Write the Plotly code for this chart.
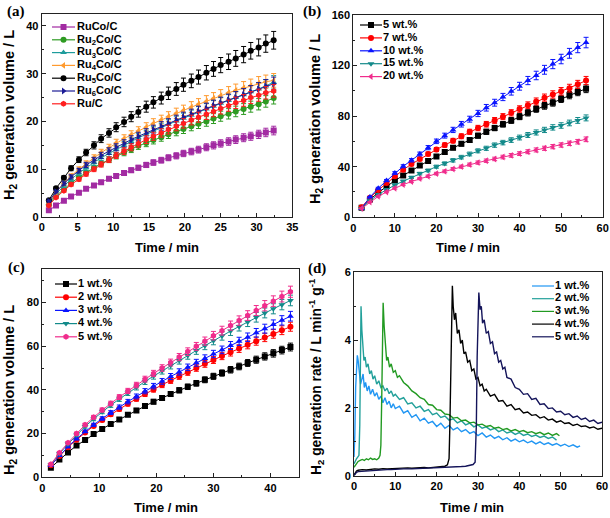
import plotly.graph_objects as go

W, H = 610, 518
SANS = "Liberation Sans, Arial, Helvetica, sans-serif"
SERIF = "Liberation Serif, Times New Roman, serif"

# ---------------- Panel (a) ----------------
time_a = [1.0, 2.0, 3.1, 4.1, 5.2, 6.2, 7.3, 8.3, 9.4, 10.4, 11.5, 12.5, 13.5, 14.6, 15.6,
          16.7, 17.7, 18.8, 19.8, 20.9, 21.9, 23.0, 24.0, 25.0, 26.1, 27.1, 28.2, 29.2, 30.3, 31.3, 32.4]
a_labels = ["RuCo/C", "Ru<sub>2</sub>Co/C", "Ru<sub>3</sub>Co/C", "Ru<sub>4</sub>Co/C",
            "Ru<sub>5</sub>Co/C", "Ru<sub>6</sub>Co/C", "Ru/C"]
a_RuCo = [1.4, 2.4, 3.4, 4.3, 5.1, 5.9, 6.6, 7.3, 8.0, 8.6, 9.2, 9.8, 10.3, 10.9, 11.4, 11.9, 12.4,
          12.8, 13.3, 13.7, 14.1, 14.6, 15.0, 15.4, 15.8, 16.2, 16.6, 16.9, 17.3, 17.7, 18.1]
a_Ru2Co = [2.6, 4.4, 5.8, 7.1, 8.3, 9.3, 10.3, 11.2, 12.0, 12.8, 13.5, 14.2, 14.9, 15.5, 16.1, 16.7,
           17.3, 17.9, 18.4, 19.0, 19.5, 20.0, 20.6, 21.1, 21.6, 22.1, 22.6, 23.1, 23.6, 24.2, 24.9]
a_Ru3Co = [2.8, 4.8, 6.5, 7.9, 9.2, 10.3, 11.4, 12.4, 13.3, 14.2, 15.0, 15.8, 16.6, 17.3, 18.0, 18.7,
           19.4, 20.1, 20.7, 21.3, 22.0, 22.6, 23.2, 23.8, 24.4, 25.0, 25.6, 26.2, 26.8, 27.4, 28.2]
a_Ru4Co = [3.0, 5.2, 7.0, 8.6, 10.0, 11.2, 12.4, 13.5, 14.5, 15.5, 16.4, 17.2, 18.0, 18.8, 19.6, 20.3,
           21.0, 21.7, 22.3, 23.0, 23.6, 24.2, 24.8, 25.4, 26.0, 26.5, 27.0, 27.5, 28.0, 28.3, 28.6]
a_Ru5Co = [3.5, 6.0, 8.2, 10.2, 12.0, 13.5, 15.0, 16.4, 17.6, 18.8, 19.9, 21.0, 22.0, 23.1, 24.0, 24.9,
           25.9, 26.8, 27.7, 28.5, 29.3, 30.2, 31.0, 31.8, 32.5, 33.2, 34.0, 34.8, 35.5, 36.3, 37.0]
a_Ru6Co = [3.3, 5.3, 7.0, 8.4, 9.7, 10.9, 11.9, 12.9, 13.8, 14.6, 15.4, 16.2, 16.9, 17.6, 18.3, 19.0,
           19.6, 20.3, 20.9, 21.5, 22.1, 22.7, 23.3, 23.9, 24.5, 25.0, 25.6, 26.2, 26.8, 27.4, 27.9]
a_RuC = [2.4, 4.1, 5.5, 6.8, 7.9, 9.0, 10.0, 11.0, 12.0, 12.9, 13.8, 14.6, 15.4, 16.2, 16.9, 17.6,
         18.3, 19.0, 19.6, 20.3, 20.9, 21.5, 22.1, 22.7, 23.3, 23.9, 24.4, 25.0, 25.5, 26.0, 26.4]

# ---------------- Panel (b) ----------------
time_b = [2, 4, 6, 8, 10, 12, 14, 16, 18, 20, 22, 24, 26, 28, 30, 32, 34, 36, 38, 40, 42, 44, 46,
          48, 50, 52, 54, 56]
b_labels = ["5 wt.%", "7 wt.%", "10 wt.%", "15 wt.%", "20 wt.%"]
b_5 = [7.5, 14, 19.5, 24.5, 29, 33, 37, 41, 44.5, 48, 51.5, 55, 58, 61, 64.5, 67.5, 70.5, 73.5,
       76.5, 79.5, 82.5, 85.5, 88, 90.5, 93.5, 96.5, 99, 101.5]
b_7 = [8, 15.5, 21.5, 27, 32.5, 37.5, 42, 46, 50, 53.5, 57, 60.5, 64, 67.5, 70.5, 73.5, 76.5, 79.5,
       82.5, 85.5, 88.5, 91.5, 94.5, 97, 99.5, 102, 105, 108]
b_10 = [7, 16, 23, 29, 35, 40.3, 45, 50, 55, 60, 64.5, 69, 73.5, 77.5, 82, 86.5, 90.5, 95, 99.5,
        103.5, 108, 112, 116.5, 121, 125, 129.5, 134, 138]
b_15 = [7, 13, 18, 22, 25.5, 28.5, 31.5, 34.5, 37, 40, 42.5, 45, 47.5, 50, 52.5, 54.5, 57, 59, 61,
        63, 65, 67, 69, 71, 72.5, 74.5, 76.5, 78.5]
b_20 = [7, 12, 16.5, 20, 23, 25.8, 28.2, 30.6, 32.4, 34.5, 36.3, 38.2, 40, 41.6, 43.2, 44.7, 46.1,
        47.6, 48.9, 50.3, 51.8, 53.2, 54.5, 55.8, 57.1, 58.4, 59.7, 61.6]

# ---------------- Panel (c) ----------------
time_c = [1.5, 3, 4.5, 6, 7.5, 9, 10.5, 12, 13.5, 15, 16.5, 18, 19.5, 21, 22.5, 24, 25.5, 27, 28.5,
          30, 31.5, 33, 34.5, 36, 37.5, 39, 40.5, 42, 43.5]
c_labels = ["1 wt.%", "2 wt.%", "3 wt.%", "4 wt.%", "5 wt.%"]
c_1 = [4.4, 8.1, 11.4, 14.5, 17.1, 19.8, 22.1, 24.4, 26.5, 28.6, 30.6, 32.6, 34.6, 36.3, 38.1, 39.8,
       41.4, 43.0, 44.6, 46.2, 47.7, 49.2, 50.7, 52.3, 53.8, 55.3, 56.7, 58.2, 59.6]
c_2 = [5.5, 9.8, 13.8, 17.2, 20.5, 23.5, 26.2, 28.8, 31.2, 33.6, 35.9, 38.1, 40.2, 42.3, 44.3, 46.2,
       48.1, 50.0, 51.9, 53.7, 55.5, 57.2, 58.9, 60.6, 62.3, 64.0, 65.6, 67.3, 68.9]
c_3 = [5.5, 10, 14, 17.6, 21, 24, 26.9, 29.6, 32.1, 34.6, 37, 39.4, 41.7, 43.9, 46.1, 48.2, 50.3,
       52.4, 54.4, 56.4, 58.3, 60.3, 62.2, 64.1, 66.1, 68, 69.9, 71.8, 73.7]
c_4 = [5.8, 10.8, 15.2, 19.4, 23.2, 26.7, 30, 33, 35.8, 38.6, 41.2, 43.8, 46.3, 48.7, 51.1, 53.4,
       55.7, 58, 60.2, 62.5, 64.7, 66.9, 69, 71.1, 73.2, 75.2, 77.1, 79, 80.9]
c_5 = [6, 11.2, 15.8, 20, 24, 27.5, 30.8, 33.8, 36.7, 39.5, 42.2, 44.9, 47.5, 50, 52.5, 55, 57.5,
       59.9, 62.3, 64.8, 67.1, 69.4, 71.7, 74, 76.3, 78.5, 80.6, 82.7, 84.9]

# ---------------- Panel (d) : (time, rate) pairs ----------------
d_labels = ["1 wt.%", "2 wt.%", "3 wt.%", "4 wt.%", "5 wt.%"]
d_1 = [(0, 0.55), (0.2, 1.2), (0.4, 2.6), (0.6, 3.3), (0.8, 3.55), (1.0, 3.4), (1.3, 3.0), (1.6, 2.7),
       (1.9, 2.85), (2.2, 3.0), (2.5, 2.6), (2.8, 2.75), (3.2, 2.5), (3.6, 2.65), (4.0, 2.4), (4.5, 2.55),
       (5.0, 2.35), (5.5, 2.45), (6.0, 2.25), (6.5, 2.35), (7, 2.15), (7.5, 2.3), (8, 2.1), (8.5, 2.2),
       (9, 2.0), (9.5, 2.12), (10, 1.98), (11, 2.05), (12, 1.85), (13, 1.92), (14, 1.72), (15, 1.8),
       (16, 1.62), (17, 1.7), (18, 1.55), (19, 1.6), (20, 1.45), (21, 1.55), (22, 1.4), (23, 1.48),
       (24, 1.35), (25, 1.42), (26, 1.3), (27, 1.36), (28, 1.25), (29, 1.3), (30, 1.18), (31, 1.26),
       (32, 1.14), (33, 1.2), (34, 1.1), (35, 1.16), (36, 1.06), (37, 1.12), (38, 1.02), (39, 1.08),
       (40, 1.0), (41, 1.05), (42, 0.97), (43, 1.02), (44, 0.94), (45, 1.0), (46, 0.92), (47, 0.97),
       (48, 0.9), (49, 0.95), (50, 0.88), (51, 0.93), (52, 0.86), (53, 0.91), (54, 0.84), (54.7, 0.88)]
d_2 = [(0, 0.35), (0.3, 0.45), (0.6, 0.5), (0.9, 0.55), (1.2, 0.6), (1.4, 1.5), (1.55, 3.5), (1.7, 5.0),
       (1.9, 4.3), (2.1, 3.8), (2.4, 3.4), (2.7, 3.5), (3.0, 3.2), (3.4, 3.3), (3.8, 3.0), (4.2, 3.1),
       (4.6, 2.85), (5.0, 2.95), (5.5, 2.7), (6.0, 2.8), (6.5, 2.6), (7.0, 2.65), (7.5, 2.5), (8, 2.58),
       (8.5, 2.42), (9, 2.5), (9.5, 2.35), (10, 2.4), (11, 2.25), (12, 2.3), (13, 2.12), (14, 2.15),
       (15, 2.0), (16, 2.05), (17, 1.9), (18, 1.95), (19, 1.8), (20, 1.85), (21, 1.72), (22, 1.76),
       (23, 1.64), (24, 1.68), (25, 1.56), (26, 1.62), (27, 1.5), (28, 1.55), (29, 1.44), (30, 1.5),
       (31, 1.4), (32, 1.44), (33, 1.35), (34, 1.4), (35, 1.3), (36, 1.35), (37, 1.26), (38, 1.3),
       (39, 1.22), (40, 1.27), (41, 1.19), (42, 1.23), (43, 1.16), (44, 1.2), (45, 1.13), (46, 1.17),
       (47, 1.1), (48, 1.14), (49, 1.05)]
d_3 = [(0, 0.25), (0.5, 0.35), (1, 0.42), (1.5, 0.45), (2, 0.48), (2.5, 0.45), (3, 0.5), (3.5, 0.47),
       (4, 0.52), (4.5, 0.48), (5, 0.5), (5.5, 0.47), (6, 0.52), (6.3, 0.6), (6.5, 0.9), (6.7, 2.2),
       (6.9, 4.3), (7.05, 5.1), (7.3, 4.4), (7.6, 3.9), (7.9, 3.4), (8.2, 3.5), (8.6, 3.2), (9, 3.3),
       (9.5, 3.05), (10, 3.1), (10.5, 2.9), (11, 2.95), (12, 2.75), (13, 2.65), (14, 2.5), (15, 2.42),
       (16, 2.3), (17, 2.25), (18, 2.1), (19, 2.08), (20, 1.95), (21, 1.93), (22, 1.82), (23, 1.8),
       (24, 1.7), (25, 1.72), (26, 1.62), (27, 1.64), (28, 1.56), (29, 1.58), (30, 1.5), (31, 1.52),
       (32, 1.45), (33, 1.48), (34, 1.4), (35, 1.43), (36, 1.36), (37, 1.39), (38, 1.32), (39, 1.36),
       (40, 1.3), (41, 1.33), (42, 1.27), (43, 1.3), (44, 1.24), (45, 1.28), (46, 1.21), (47, 1.26),
       (48, 1.19), (49, 1.24), (49.7, 1.18)]
d_4 = [(0, 0.02), (0.3, 0.1), (0.6, 0.14), (1, 0.16), (2, 0.18), (3, 0.17), (4, 0.19), (5, 0.2),
       (6, 0.19), (7, 0.21), (8, 0.2), (9, 0.21), (10, 0.22), (11, 0.21), (12, 0.22), (13, 0.23),
       (14, 0.22), (15, 0.23), (16, 0.22), (17, 0.24), (18, 0.23), (19, 0.24), (20, 0.25), (21, 0.26),
       (22, 0.28), (22.6, 0.32), (23.0, 0.5), (23.2, 1.5), (23.4, 3.2), (23.6, 4.8), (23.8, 5.6),
       (24.0, 5.0), (24.3, 4.6), (24.6, 4.8), (25.0, 4.2), (25.4, 4.3), (25.8, 3.9), (26.2, 4.0),
       (26.6, 3.6), (27.0, 3.65), (27.5, 3.35), (28, 3.4), (28.5, 3.1), (29, 3.15), (29.5, 2.85),
       (30, 2.9), (30.5, 2.65), (31, 2.7), (31.5, 2.5), (32, 2.55), (33, 2.35), (34, 2.4), (35, 2.2),
       (36, 2.22), (37, 2.05), (38, 2.1), (39, 1.95), (40, 1.98), (41, 1.85), (42, 1.88), (43, 1.78),
       (44, 1.8), (45, 1.7), (46, 1.74), (47, 1.64), (48, 1.67), (49, 1.58), (50, 1.62), (51, 1.54),
       (52, 1.56), (53, 1.48), (54, 1.52), (55, 1.45), (56, 1.47), (57, 1.41), (58, 1.44), (59, 1.37),
       (60, 1.4)]
d_5 = [(0, 0.0), (0.3, 0.06), (0.6, 0.1), (1, 0.12), (2, 0.13), (3, 0.15), (4, 0.15), (5, 0.16),
       (6, 0.17), (7, 0.17), (8, 0.18), (9, 0.18), (10, 0.19), (12, 0.2), (14, 0.2), (16, 0.21),
       (18, 0.21), (20, 0.22), (22, 0.23), (24, 0.25), (26, 0.27), (27, 0.28), (28, 0.3), (28.8, 0.33),
       (29.3, 0.4), (29.6, 1.5), (29.8, 3.5), (30.0, 4.8), (30.2, 5.4), (30.5, 4.9), (30.8, 5.0),
       (31.1, 4.5), (31.5, 4.6), (32, 4.2), (32.5, 4.25), (33, 3.9), (33.5, 3.95), (34, 3.6),
       (34.5, 3.65), (35, 3.35), (35.5, 3.4), (36, 3.15), (36.5, 3.2), (37, 2.9), (38, 2.85),
       (39, 2.6), (40, 2.55), (41, 2.4), (42, 2.42), (43, 2.25), (44, 2.28), (45, 2.1), (46, 2.12),
       (47, 1.98), (48, 2.0), (49, 1.88), (50, 1.9), (51, 1.8), (52, 1.83), (53, 1.72), (54, 1.76),
       (55, 1.66), (56, 1.7), (57, 1.6), (58, 1.64), (59, 1.54), (60, 1.58)]

# ---------------- styles ----------------
a_series = [(a_RuCo, "#A22BA2", "square"), (a_Ru2Co, "#2E9B22", "circle"),
            (a_Ru3Co, "#1E9C9C", "triangle-up"), (a_Ru4Co, "#FF9A2E", "triangle-left"),
            (a_Ru5Co, "#000000", "circle"), (a_Ru6Co, "#1C1C96", "triangle-right"),
            (a_RuC, "#FF1E1E", "hexagon")]
b_series = [(b_5, "#000000", "square"), (b_7, "#FF0000", "circle"), (b_10, "#0A14FF", "triangle-up"),
            (b_15, "#138A8A", "triangle-down"), (b_20, "#F02C8C", "triangle-left")]
c_series = [(c_1, "#000000", "square"), (c_2, "#FF0000", "circle"), (c_3, "#0A14FF", "triangle-up"),
            (c_4, "#138A8A", "triangle-down"), (c_5, "#F02C8C", "hexagon")]
d_series = [(d_1, "#2196F3"), (d_2, "#22A09A"), (d_3, "#229A22"), (d_4, "#000000"), (d_5, "#14145A")]

fig = go.Figure()
AXC = "#222222"


def dom(x0, x1, y0, y1):
    return [x0 / W, x1 / W], [1 - y1 / H, 1 - y0 / H]


def axis(domain, rng, dtick, mdtick):
    return dict(domain=domain, range=rng, dtick=dtick, showline=True, linecolor=AXC, linewidth=1,
                mirror=True, ticks="inside", ticklen=4, tickwidth=1, tickcolor=AXC,
                minor=dict(ticks="inside", ticklen=2, dtick=mdtick, tickcolor=AXC, tickwidth=1),
                showgrid=False, zeroline=False, automargin=False, ticklabeloverflow="allow",
                tickfont=dict(family=SANS, size=11, weight="bold", color="black"))


panels = [
    ("", (41.7, 292.3, 14, 217), [0, 35], 5, 2.5, [0, 42.5], 10, 5),
    ("2", (353.3, 602.7, 14.7, 217.3), [0, 60], 10, 5, [0, 160], 40, 20),
    ("3", (42.3, 299, 269, 477.3), [0, 45], 10, 5, [0, 95.3], 20, 10),
    ("4", (354, 602, 272.3, 475.7), [0, 60], 10, 5, [0, 6], 2, 1),
]
layout_axes = {}
for suf, box, xr, xd, xm, yr, yd, ym in panels:
    xdom, ydom = dom(*box)
    layout_axes["xaxis" + suf] = dict(axis(xdom, xr, xd, xm), anchor="y" + suf)
    layout_axes["yaxis" + suf] = dict(axis(ydom, yr, yd, ym), anchor="x" + suf)
# pixel overlay axis for legends / labels
layout_axes["xaxis5"] = dict(domain=[0, 1], range=[0, W], visible=False, anchor="y5", fixedrange=True)
layout_axes["yaxis5"] = dict(domain=[0, 1], range=[H, 0], visible=False, anchor="x5", fixedrange=True)


def add_marked(times, series, xa, ya, pct, msize):
    for vals, col, sym in series:
        fig.add_trace(go.Scatter(
            x=times, y=vals, xaxis=xa, yaxis=ya, mode="lines+markers", showlegend=False,
            line=dict(color=col, width=1),
            marker=dict(color=col, symbol=sym, size=msize, line=dict(width=0)),
            error_y=dict(type="percent", value=pct, color=col, thickness=1, width=2.5)))


add_marked(time_a, a_series, "x", "y", 5, 6)
add_marked(time_b, b_series, "x2", "y2", 3, 6)
add_marked(time_c, c_series, "x3", "y3", 3, 6)
for pairs, col in d_series:
    fig.add_trace(go.Scatter(x=[p[0] for p in pairs], y=[p[1] for p in pairs], xaxis="x4", yaxis="y4",
                             mode="lines", showlegend=False, line=dict(color=col, width=1.4)))

# ---------------- custom legends (pixel layout) ----------------
annotations = []
LEGFONT = dict(family=SANS, size=11, weight="bold", color="black")


def legend(labels, series, x0, x1, tx, y0, dy, markers=True):
    ty = [y0 + i * dy for i in range(len(series))]
    for y, s in zip(ty, series):
        col = s[1]
        fig.add_trace(go.Scatter(x=[x0, x1], y=[y, y], xaxis="x5", yaxis="y5", mode="lines",
                                 showlegend=False, line=dict(color=col, width=1.2), hoverinfo="skip"))
    if markers:
        fig.add_trace(go.Scatter(x=[(x0 + x1) / 2] * len(ty), y=ty, xaxis="x5", yaxis="y5",
                                 mode="markers", showlegend=False,
                                 marker=dict(color=[s[1] for s in series], symbol=[s[2] for s in series],
                                             size=6, line=dict(width=0))))
    fig.add_trace(go.Scatter(x=[tx] * len(ty), y=ty, xaxis="x5", yaxis="y5", mode="text",
                             text=labels, textposition="middle right", showlegend=False,
                             textfont=dict(LEGFONT), hoverinfo="skip"))


legend(a_labels, a_series, 52, 75, 77, 27, 12.8)
legend(b_labels, b_series, 360, 382, 383, 25, 12.9)
legend(c_labels, c_series, 55, 77, 78, 284, 13.2)
legend(d_labels, d_series, 532, 554, 555, 286, 12.7, markers=False)

TFX = dict(family=SANS, size=13, weight="bold", color="black")
TFY = dict(family=SANS, size=14.5, weight="bold", color="black")
TFR = dict(family=SANS, size=13.8, weight="bold", color="black")
vol = "H<sub>2</sub> generation volume / L"
rate = "H<sub>2</sub> generation rate / L min<sup>-1</sup> g<sup>-1</sup>"
for x, y in [(167, 247), (468, 247), (166, 507), (472, 507)]:
    annotations.append(dict(xref="x5", yref="y5", x=x, y=y, text="Time / min", showarrow=False,
                            xanchor="center", yanchor="middle", font=dict(TFX)))
for x, y, t, f in [(10, 115, vol, TFY), (316, 119, vol, TFY), (10, 390, vol, TFY), (316, 377, rate, TFR)]:
    annotations.append(dict(xref="x5", yref="y5", x=x, y=y, text=t, showarrow=False, textangle=-90,
                            xanchor="center", yanchor="middle", font=dict(f)))
for x, y, t in [(16, 11, "(a)"), (312, 11, "(b)"), (16, 267, "(c)"), (317, 268, "(d)")]:
    annotations.append(dict(xref="x5", yref="y5", x=x, y=y, text=t, showarrow=False,
                            xanchor="center", yanchor="middle",
                            font=dict(family=SERIF, size=15, weight="bold", color="black")))

fig.update_layout(width=W, height=H, margin=dict(l=0, r=0, t=0, b=0),
                  paper_bgcolor="white", plot_bgcolor="rgba(0,0,0,0)", hovermode=False,
                  showlegend=False, annotations=annotations, **layout_axes)

fig.write_html("out.html", config={"displayModeBar": False, "staticPlot": True},
               post_script="document.body.style.margin='0';document.body.style.overflow='hidden';")
